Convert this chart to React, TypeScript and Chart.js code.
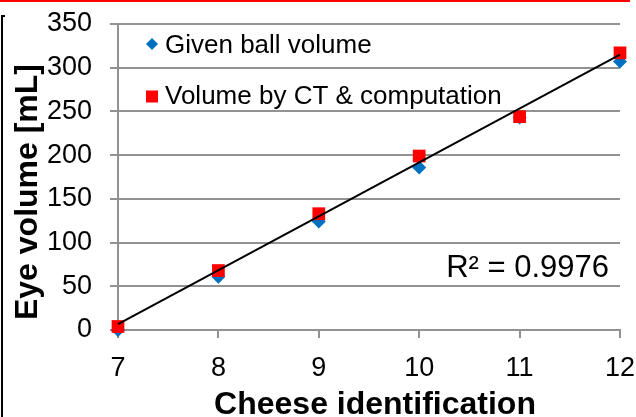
import React, { useEffect, useRef } from "react";
import { Chart, registerables } from "chart.js";

Chart.register(...registerables);

// ---- data ----
const cheeseIds = [7, 8, 9, 10, 11, 12];
const givenBallVolume = [0, 61, 124, 186, 243, 307];
const ctVolume = [4, 68, 133, 199, 244, 317];
const seriesLabels = ["Given ball volume", "Volume by CT & computation"];
const yMin = 0;
const yMax = 350;
const yStep = 50;
const xMin = 7;
const xMax = 12;
const rSquaredLabel = "R² = 0.9976";
const xTitle = "Cheese identification";
const yTitle = "Eye volume [mL]";

const BLUE = "#0070C0";
const RED = "#FF0000";
const GRID = "#929292";
const FONT = "'Liberation Sans', Arial, sans-serif";

function linearFit(xs: number[], ys: number[]) {
  const n = xs.length;
  const mx = xs.reduce((a, b) => a + b, 0) / n;
  const my = ys.reduce((a, b) => a + b, 0) / n;
  let sxy = 0;
  let sxx = 0;
  for (let i = 0; i < n; i++) {
    sxy += (xs[i] - mx) * (ys[i] - my);
    sxx += (xs[i] - mx) * (xs[i] - mx);
  }
  const slope = sxy / sxx;
  return { slope, intercept: my - slope * mx };
}

const overlayPlugin = {
  id: "overlay",
  afterDraw(chart: any) {
    const ctx = chart.ctx as CanvasRenderingContext2D;
    ctx.save();
    // frame fragments
    ctx.strokeStyle = "#FF0000";
    ctx.lineWidth = 2;
    ctx.beginPath();
    ctx.moveTo(0, 1);
    ctx.lineTo(630, 1);
    ctx.stroke();
    ctx.strokeStyle = "#000000";
    ctx.lineWidth = 2;
    ctx.beginPath();
    ctx.moveTo(5, 16);
    ctx.lineTo(2, 16);
    ctx.lineTo(2, 417);
    ctx.stroke();

    // legend
    ctx.fillStyle = BLUE;
    ctx.beginPath();
    ctx.moveTo(152, 44 - 6);
    ctx.lineTo(152 + 6, 44);
    ctx.lineTo(152, 44 + 6);
    ctx.lineTo(152 - 6, 44);
    ctx.closePath();
    ctx.fill();
    ctx.fillStyle = RED;
    ctx.fillRect(146, 90.5, 12, 12);

    ctx.fillStyle = "#000000";
    ctx.font = `26px ${FONT}`;
    ctx.textAlign = "left";
    ctx.textBaseline = "alphabetic";
    ctx.fillText(seriesLabels[0], 165, 53);
    ctx.fillText(seriesLabels[1], 165, 103.5);

    // R² label
    ctx.font = `31px ${FONT}`;
    ctx.textAlign = "right";
    ctx.fillText(rSquaredLabel, 609, 277);

    // axis titles
    ctx.font = `bold 32px ${FONT}`;
    ctx.textAlign = "center";
    ctx.fillText(xTitle, 375, 414);
    ctx.translate(37, 192);
    ctx.rotate(-Math.PI / 2);
    ctx.fillText(yTitle, 0, 0);
    ctx.restore();
  },
};

function zeroPad(s: any) {
  s.paddingTop = 0;
  s.paddingBottom = 0;
  s.paddingLeft = 0;
  s.paddingRight = 0;
}

export default function App() {
  const ref = useRef<HTMLCanvasElement | null>(null);

  useEffect(() => {
    if (!ref.current) return;
    const fit = linearFit(cheeseIds, ctVolume);
    const trend = [xMin, xMax].map((x) => ({ x, y: fit.intercept + fit.slope * x }));

    const chart = new Chart(ref.current, {
      type: "scatter",
      data: {
        datasets: [
          {
            type: "line",
            label: "Linear fit",
            data: trend,
            borderColor: "#000000",
            borderWidth: 2,
            pointRadius: 0,
            fill: false,
            order: 0,
            clip: false,
          } as any,
          {
            label: seriesLabels[1],
            data: cheeseIds.map((x, i) => ({ x, y: ctVolume[i] })),
            pointStyle: "rect",
            pointRadius: 9,
            backgroundColor: RED,
            borderColor: RED,
            borderWidth: 0,
            order: 1,
            clip: false,
          },
          {
            label: seriesLabels[0],
            data: cheeseIds.map((x, i) => ({ x, y: givenBallVolume[i] })),
            pointStyle: "rectRot",
            pointRadius: 7,
            backgroundColor: BLUE,
            borderColor: BLUE,
            borderWidth: 0,
            order: 2,
            clip: false,
          },
        ],
      },
      options: {
        responsive: false,
        animation: false,
        layout: { padding: { top: 24, right: 16, left: 0, bottom: 0 } },
        plugins: {
          legend: { display: false },
          tooltip: { enabled: false },
        },
        scales: {
          x: {
            type: "linear",
            min: xMin,
            max: xMax,
            ticks: {
              stepSize: 1,
              color: "#000000",
              font: { family: FONT, size: 27 },
              padding: 14,
              maxRotation: 0,
            },
            grid: {
              drawOnChartArea: false,
              drawTicks: true,
              tickLength: 8,
              color: GRID,
              lineWidth: 2,
            },
            border: { color: GRID, width: 2 },
            afterFit: (s: any) => {
              s.height = 87;
              zeroPad(s);
            },
          },
          y: {
            type: "linear",
            min: yMin,
            max: yMax,
            ticks: {
              stepSize: yStep,
              color: "#000000",
              font: { family: FONT, size: 27 },
              padding: 18,
            },
            grid: {
              drawTicks: true,
              tickLength: 8,
              color: GRID,
              lineWidth: 2,
            },
            border: { color: GRID, width: 2 },
            afterFit: (s: any) => {
              s.width = 118;
              zeroPad(s);
            },
          },
        },
      },
      plugins: [overlayPlugin],
    });
    return () => chart.destroy();
  }, []);

  return (
    <div style={{ position: "fixed", left: 0, top: 0, width: 636, height: 417, background: "#fff" }}>
      <canvas ref={ref} width={636} height={417} style={{ display: "block" }} />
    </div>
  );
}
